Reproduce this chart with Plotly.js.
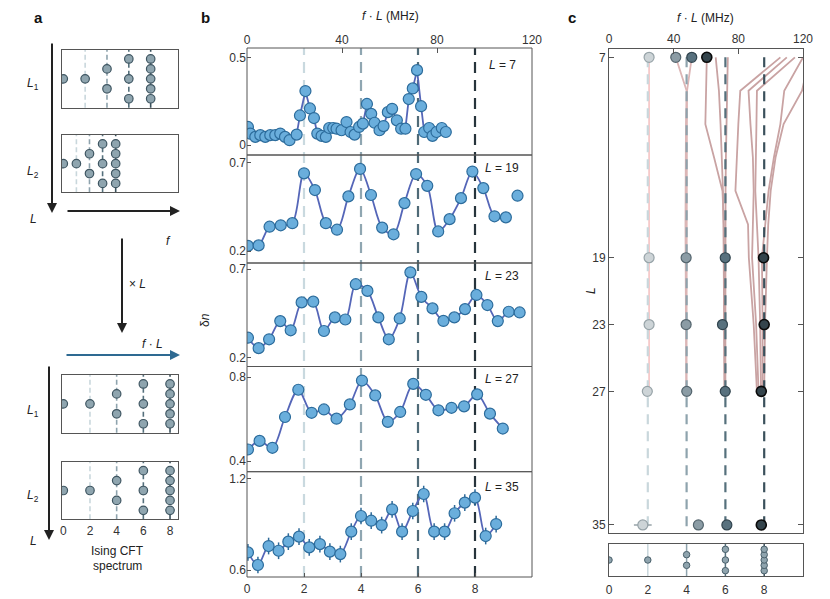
<!DOCTYPE html>
<html>
<head>
<meta charset="utf-8">
<script src="https://cdn.plot.ly/plotly-3.0.1.min.js"></script>
<style>html,body{margin:0;padding:0;background:#fff}#chart{width:830px;height:599px}</style>
</head>
<body>
<div id="chart"></div>
<script>
// ================= DATA =================
// Ising CFT spectrum: scaling dimensions and degeneracy stacking
const cftLevels = [0, 2, 4, 6, 8];
const cftStack = [[0], [0], [-1, 1], [-2, 0, 2], [-2, -1, 0, 1, 2]];
const levelTickLabels = ['0', '2', '4', '6', '8'];
const mhzTicks = [0, 40, 80, 120];
const mhzPerUnit = 12; // 120 MHz on the f·L axis <-> 10 on the CFT axis

// Panel b: delta n versus f·L (MHz)
const fL7 = [0.4,1.4,3.5,5.6,7.7,9.8,11.9,14.0,16.0,17.9,20.9,22.3,24.6,26.5,28.2,29.6,31.4,33.2,34.6,36.3,37.7,39.8,41.9,43.6,45.3,47.2,48.8,50.5,52.3,53.7,55.8,57.5,59.3,61.1,63.1,64.9,66.7,68.1,69.8,71.6,73.3,74.6,76.7,78.1,79.8,82.0,83.7];
const dn7 = [0.104,0.066,0.047,0.057,0.047,0.057,0.057,0.066,0.047,0.028,0.060,0.170,0.310,0.210,0.155,0.066,0.053,0.047,0.098,0.098,0.094,0.085,0.132,0.075,0.060,0.104,0.123,0.236,0.179,0.128,0.085,0.109,0.189,0.208,0.142,0.094,0.094,0.264,0.325,0.430,0.223,0.075,0.098,0.053,0.075,0.098,0.075];

const fL19 = [0.4,4.9,9.5,14.2,19.1,24.0,28.6,33.2,37.9,42.7,47.6,52.2,56.9,61.7,66.3,71.2,75.9,80.5,85.3,90.1,94.9,99.5,104.2,109.0,113.9];
const dn19 = [0.229,0.232,0.338,0.346,0.358,0.641,0.546,0.358,0.321,0.510,0.666,0.518,0.333,0.295,0.472,0.637,0.570,0.311,0.381,0.500,0.651,0.557,0.397,0.391,0.514];

const fL23 = [0.4,4.9,9.3,14.0,18.4,23.0,27.9,32.4,37.0,41.4,45.8,50.7,55.3,59.7,64.3,68.8,73.4,78.1,82.7,87.3,91.8,96.6,101.2,105.6,110.2,114.8];
const dn23 = [0.311,0.252,0.302,0.405,0.353,0.511,0.515,0.349,0.426,0.414,0.614,0.576,0.426,0.302,0.420,0.681,0.542,0.477,0.406,0.426,0.473,0.553,0.496,0.405,0.458,0.454];

const fL27 = [0.4,5.3,10.7,16.0,21.6,27.2,32.4,37.7,43.3,48.4,54.0,59.3,64.5,70.0,75.3,80.6,86.1,91.4,96.9,102.3,107.7];
const dn27 = [0.455,0.496,0.463,0.610,0.740,0.630,0.646,0.602,0.670,0.784,0.713,0.587,0.634,0.768,0.716,0.642,0.654,0.661,0.718,0.626,0.555];

const fL35 = [0.4,4.6,9.1,13.3,17.4,21.9,26.2,30.7,34.9,39.3,43.9,48.0,52.3,56.7,61.1,65.3,69.8,74.4,78.8,83.2,87.4,91.7,96.0,100.5,104.9];
const dn35 = [0.716,0.633,0.758,0.727,0.787,0.820,0.749,0.771,0.721,0.705,0.853,0.956,0.925,0.896,1.000,0.853,0.989,1.101,0.853,0.853,0.974,1.044,1.077,0.824,0.903];

const systemSizes = [7, 19, 23, 27, 35];
const dnErr = [0, 0.012, 0.02, 0.025, 0.055];
const dnTicks = [[0, 0.5], [0.2, 0.7], [0.2, 0.7], [0.4, 0.8], [0.6, 1.2]];

// Panel c: peak positions f·L (MHz) versus L
const expL = [7, 19, 23, 27, 35];
const peak2 = [24.8, 24.8, 24.8, 23.7, 20.9];
const peak2Err = [0.8, 0.8, 0.8, 0.8, 5.5];
const peak4 = [41.3, 47.7, 47.7, 48.1, 55.3];
const peak4Err = [0.8, 0.8, 0.8, 0.8, 2.5];
const peak6 = [51.2, 71.9, 70.2, 71.9, 72.9];
const peak6Err = [0.8, 0.8, 0.8, 0.8, 1.5];
const peak8 = [60.5, 95.6, 96.0, 94.2, 94.2];
const peak8Err = [0.8, 0.8, 0.8, 1.5, 2.5];

// Panel c: numerically computed spectrum lines
const theoryL = [7, 9, 11, 13, 15, 17, 19, 23, 27];
const th2 = [24.8, 24.8, 24.8, 24.8, 24.8, 24.8, 24.8, 24.8, 24.8];
const th4a = [41.3, 48.0, 47.6, 47.4, 47.3, 47.3, 47.4, 47.6, 47.8];
const th4b = [51.2, 48.3, 48.2, 48.1, 48.0, 48.0, 48.0, 48.0, 48.0];
const th6a = [60.5, 60.0, 59.6, 65.0, 70.2, 71.0, 71.2, 71.3, 71.5];
const th6b = [66.0, 68.0, 69.0, 69.8, 70.5, 70.8, 71.0, 71.3, 71.5];
const th6c = [73.5, 73.0, 72.5, 72.3, 72.1, 72.0, 72.0, 72.0, 72.0];
const th8a = [106, 81.2, 80.0, 79.0, 78.2, 86.0, 86.5, 89.5, 91.5];
const th8b = [110, 86.3, 87.5, 89.0, 89.5, 89.0, 88.5, 91.0, 92.5];
const th8c = [115, 91.5, 91.2, 91.0, 90.5, 91.5, 92.5, 93.5, 94.0];
const th8d = [120, 108.4, 106.0, 102.0, 98.7, 96.5, 94.6, 95.0, 95.0];
const th8e = [124, 119.4, 108.0, 103.0, 100.0, 98.5, 97.7, 96.5, 96.0];

// ================= STYLE / LAYOUT HELPERS =================
const W = 830, H = 599;
const px = v => v / W;
const py = v => 1 - v / H;
const FONT = {family: 'Liberation Sans, Arial, Helvetica, sans-serif', size: 12, color: '#222'};
const levelColB = ['#c9d9df', '#8fa6b1', '#4f6a77', '#27343c'];
const levelColC = ['#c9d7dc', '#8ea3ad', '#55707c', '#3a505b'];
const axBase = {showgrid: false, zeroline: false, tickfont: {size: 12, color: '#333'}, tickcolor: '#555'};

const data = [];
const shapes = [];
const annotations = [];
function label(text, x, y, extra) {
  annotations.push(Object.assign({xref: 'paper', yref: 'paper', x: px(x), y: py(y), text: text,
    showarrow: false, xanchor: 'center', yanchor: 'middle', font: {size: 12, color: '#222'}}, extra || {}));
}
const layout = {
  width: W, height: H,
  margin: {l: 0, r: 0, t: 0, b: 0},
  paper_bgcolor: '#fff', plot_bgcolor: 'rgba(0,0,0,0)',
  showlegend: false, font: FONT, hovermode: false
};

// ---------- Panel b ----------
const bSeries = [[fL7, dn7], [fL19, dn19], [fL23, dn23], [fL27, dn27], [fL35, dn35]];
const bBoxes = [[48, 155], [155, 263], [263, 366.5], [366.5, 471.7], [471.7, 577]];
const bRanges = [[-0.057, 0.557], [0.132, 0.745], [0.148, 0.734], [0.349, 0.851], [0.554, 1.248]];
const bYKeys = ['y', 'y2', 'y3', 'y4', 'y5'];
const bLabelY = [65, 168, 276, 379, 487];

layout.xaxis = Object.assign({}, axBase, {
  domain: [px(247), px(532)], range: [0, 120], side: 'top', anchor: 'y',
  tickvals: mhzTicks, ticks: 'inside', ticklen: 5, showline: false, ticklabelstandoff: 1
});
layout.xaxis2 = Object.assign({}, axBase, {
  overlaying: 'x', anchor: 'y5', side: 'bottom', range: [0, 10],
  tickvals: cftLevels, ticktext: levelTickLabels, ticks: 'inside', ticklen: 4, showline: false,
  ticklabelstandoff: 3
});

bYKeys.forEach((yk, i) => {
  const name = 'yaxis' + (i === 0 ? '' : (i + 1));
  layout[name] = Object.assign({}, axBase, {
    domain: [py(bBoxes[i][1]), py(bBoxes[i][0])], range: bRanges[i], anchor: 'x',
    tickvals: dnTicks[i], ticks: 'inside', ticklen: 4, showline: false
  });
  shapes.push({type: 'rect', xref: 'x domain', yref: yk + ' domain', x0: 0, x1: 1, y0: 0, y1: 1,
    line: {color: '#555', width: 1}, layer: 'above'});
  const [fx, fy] = bSeries[i];
  const lineX = i === 1 ? fx.slice(0, -1) : fx;
  const lineY = i === 1 ? fy.slice(0, -1) : fy;
  data.push({type: 'scatter', mode: 'lines', x: lineX, y: lineY, xaxis: 'x', yaxis: yk,
    line: {color: '#5566b8', width: 1.8, shape: i === 0 ? 'linear' : 'spline', smoothing: 0.9}});
  data.push({type: 'scatter', mode: 'markers', x: fx, y: fy, xaxis: 'x', yaxis: yk,
    error_y: {type: 'constant', value: dnErr[i], visible: dnErr[i] > 0, color: '#2f6a99', thickness: 1.5, width: 0},
    marker: {size: 11, color: '#6aaedc', line: {color: '#2c6c9c', width: 1.2}}});
  label('<i>L</i> = ' + systemSizes[i], 502, bLabelY[i]);
});
cftLevels.slice(1).forEach((lv, i) => {
  shapes.push({type: 'line', xref: 'x2', yref: 'paper', x0: lv, x1: lv, y0: py(577), y1: py(48),
    line: {color: levelColB[i], width: 2.2, dash: '11px,7px'}, layer: 'below'});
});
label('<i>f</i> · <i>L</i> (MHz)', 390, 16);
label('δ<i>n</i>', 205, 320, {textangle: -90});

// ---------- Panel c ----------
layout.xaxis3 = Object.assign({}, axBase, {
  domain: [px(609), px(803)], range: [0, 120], side: 'top', anchor: 'y6',
  tickvals: mhzTicks, ticks: 'inside', ticklen: 5, showline: true, mirror: true, linecolor: '#555', linewidth: 1,
  ticklabelstandoff: 1
});
layout.yaxis6 = Object.assign({}, axBase, {
  domain: [py(533.3), py(49.3)], range: [35.5, 6.52], anchor: 'x3',
  tickvals: expL, ticks: 'inside', ticklen: 5, showline: true, mirror: 'ticks', linecolor: '#555', linewidth: 1
});
layout.xaxis4 = Object.assign({}, axBase, {
  domain: [px(609), px(803)], range: [0, 10], anchor: 'y7', side: 'bottom',
  tickvals: cftLevels, ticktext: levelTickLabels, ticks: '', showline: true, mirror: true, linecolor: '#555', linewidth: 1,
  ticklabelstandoff: 3
});
layout.yaxis7 = Object.assign({}, axBase, {
  domain: [py(576), py(544)], range: [-3, 3], anchor: 'x4',
  showticklabels: false, ticks: '', showline: true, mirror: true, linecolor: '#555', linewidth: 1
});

const thLines = [[th2, '#f6caca'], [th4a, '#dcb6b6'], [th4b, '#dcb6b6'], [th6a, '#c9a3a3'], [th6b, '#c9a3a3'], [th6c, '#c9a3a3'],
  [th8a, '#c9a3a3'], [th8b, '#c9a3a3'], [th8c, '#c9a3a3'], [th8d, '#c9a3a3'], [th8e, '#c9a3a3']];
thLines.forEach(([xs, col]) => {
  data.push({type: 'scatter', mode: 'lines', x: xs, y: theoryL, xaxis: 'x3', yaxis: 'y6',
    line: {color: col, width: 1.8}});
});
cftLevels.slice(1).forEach((lv, i) => {
  data.push({type: 'scatter', mode: 'lines', x: [lv * mhzPerUnit, lv * mhzPerUnit], y: [expL[0], 35.5],
    xaxis: 'x3', yaxis: 'y6', line: {color: levelColC[i], width: 2.2, dash: '10px,7px'}});
  shapes.push({type: 'line', xref: 'x4', yref: 'y7 domain', x0: lv, x1: lv, y0: 0, y1: 1,
    line: {color: levelColC[i], width: 1.5}, layer: 'below'});
});
const peakSets = [
  [peak2, peak2Err, '#cdd4d7', '#97a3a8', 1.2],
  [peak4, peak4Err, '#8b9ca5', '#53646d', 1.2],
  [peak6, peak6Err, '#58717e', '#31444e', 1.2],
  [peak8, peak8Err, '#34444c', '#0a0a0a', 1.6]
];
peakSets.forEach(([xs, ex, fill, edge, lw]) => {
  data.push({type: 'scatter', mode: 'markers', x: xs, y: expL, xaxis: 'x3', yaxis: 'y6',
    error_x: {type: 'data', array: ex, color: edge, thickness: 1.5, width: 0},
    marker: {size: 10, color: fill, line: {color: edge, width: lw}}});
});
label('<i>f</i> · <i>L</i> (MHz)', 705, 18);
label('<i>L</i>', 591, 291, {textangle: -90});

// spectrum stacks helper
function stackXY() {
  const xs = [], ys = [];
  cftLevels.forEach((lv, i) => cftStack[i].forEach(o => { xs.push(lv); ys.push(o); }));
  return [xs, ys];
}
const [sx, sy] = stackXY();
data.push({type: 'scatter', mode: 'markers', x: sx, y: sy, xaxis: 'x4', yaxis: 'y7',
  marker: {size: 6.5, color: '#8fa4ae', line: {color: '#4a606b', width: 1}}});

// ---------- Panel a ----------
const aBoxes = [
  {xa: 'x5', ya: 'y8', xr: [-0.146, 10.53], top: 50, bot: 107.7, labels: false},
  {xa: 'x6', ya: 'y9', xr: [-0.244, 17.56], top: 135, bot: 192.3, labels: false},
  {xa: 'x7', ya: 'y10', xr: [-0.12, 8.62], top: 375, bot: 432.7, labels: false},
  {xa: 'x8', ya: 'y11', xr: [-0.12, 8.62], top: 461.7, bot: 519.3, labels: true}
];
aBoxes.forEach(b => {
  const xn = 'xaxis' + b.xa.slice(1), yn = 'yaxis' + b.ya.slice(1);
  layout[xn] = Object.assign({}, axBase, {
    domain: [px(61.7), px(178.3)], range: b.xr, anchor: b.ya, side: 'bottom',
    showline: true, mirror: true, linecolor: '#555', linewidth: 1, ticks: '',
    showticklabels: b.labels, tickvals: cftLevels, ticktext: levelTickLabels
  });
  layout[yn] = Object.assign({}, axBase, {
    domain: [py(b.bot), py(b.top)], range: [-2.9, 2.9], anchor: b.xa,
    showline: true, mirror: true, linecolor: '#555', linewidth: 1, ticks: '', showticklabels: false
  });
  cftLevels.slice(1).forEach((lv, i) => {
    shapes.push({type: 'line', xref: b.xa, yref: b.ya + ' domain', x0: lv, x1: lv, y0: 0, y1: 1,
      line: {color: levelColC[i], width: 1.6, dash: '5px,3px'}, layer: 'below'});
  });
  data.push({type: 'scatter', mode: 'markers', x: sx, y: sy, xaxis: b.xa, yaxis: b.ya,
    marker: {size: 8.5, color: '#8fa5af', line: {color: '#3f5662', width: 1.2}}});
});

// arrows of panel a
const arrows = [
  {x: 52, y: 213, ax: 0, ay: -171, c: '#222'},
  {x: 180, y: 211, ax: -114, ay: 0, c: '#222'},
  {x: 122, y: 333, ax: 0, ay: -96, c: '#222'},
  {x: 180, y: 355, ax: -115, ay: 0, c: '#2e6a92'},
  {x: 49, y: 540, ax: 0, ay: -175, c: '#222'}
];
arrows.forEach(a => annotations.push({xref: 'paper', yref: 'paper', x: px(a.x), y: py(a.y), ax: a.ax, ay: a.ay,
  text: '', showarrow: true, arrowhead: 2, arrowsize: 1, arrowwidth: 2, arrowcolor: a.c, standoff: 0}));

const aTexts = [
  ['<i>L</i><sub>1</sub>', 33, 84], ['<i>L</i><sub>2</sub>', 33, 172], ['<i>L</i>', 33, 219],
  ['<i>f</i>', 168, 241], ['× <i>L</i>', 137, 284], ['<i>f</i> · <i>L</i>', 152, 344],
  ['<i>L</i><sub>1</sub>', 33, 411], ['<i>L</i><sub>2</sub>', 33, 496], ['<i>L</i>', 33, 541],
  ['Ising CFT', 117, 551], ['spectrum', 117, 566]
];
aTexts.forEach(([t, x, y]) => label(t, x, y));

// panel letters
[['a', 38], ['b', 205], ['c', 572]].forEach(([t, x]) => label('<b>' + t + '</b>', x, 18,
  {font: {size: 15, color: '#111'}}));

layout.shapes = shapes;
layout.annotations = annotations;

Plotly.newPlot('chart', data, layout, {staticPlot: true, displayModeBar: false});
</script>
</body>
</html>
